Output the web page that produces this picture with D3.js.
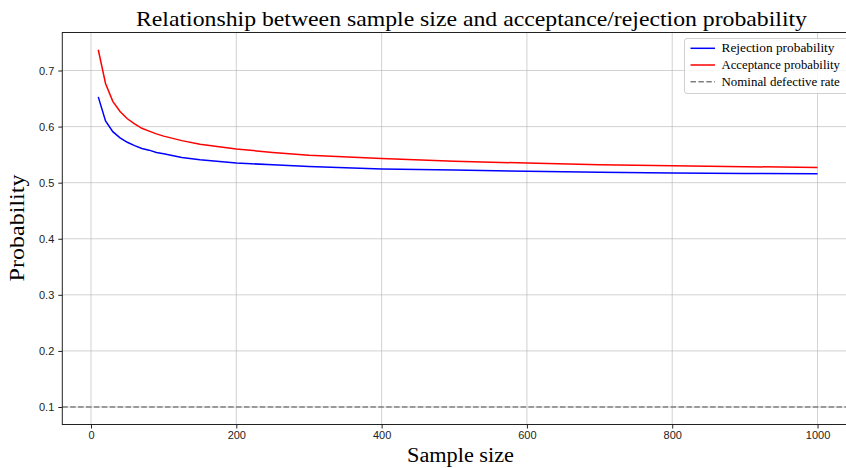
<!DOCTYPE html>
<html><head><meta charset="utf-8">
<script src="https://cdn.jsdelivr.net/npm/d3@7"></script>
<style>body{margin:0;background:#fff}svg{display:block}</style>
</head><body>
<script>
const sampleSizes = [10,20,30,40,50,60,70,80,90,100,125,150,200,250,300,400,500,600,700,800,900,1000];
const rejectionProb = [0.653,0.610,0.591,0.580,0.572,0.566,0.561,0.558,0.554,0.5516,0.545,0.541,0.535,0.532,0.529,0.5245,0.5225,0.5205,0.5185,0.5172,0.5165,0.516];
const acceptanceProb = [0.737,0.677,0.645,0.627,0.614,0.605,0.597,0.592,0.587,0.583,0.575,0.5685,0.560,0.554,0.549,0.543,0.538,0.535,0.532,0.530,0.5285,0.5272];
const nominalRate = 0.1;
const xTicks = [0,200,400,600,800,1000];
const yTicks = [0.1,0.2,0.3,0.4,0.5,0.6,0.7];
const legendLabels = ["Rejection probability","Acceptance probability","Nominal defective rate"];

const W=846,H=468;
const L=62.3,R=853.5,T=32.5,B=424.5;
const svg=d3.select("body").append("svg").attr("width",W).attr("height",H);
const x=d3.scaleLinear().domain([-39.5,1049.5]).range([L,R]);
const y=d3.scaleLinear().domain([0.0688,0.7678]).range([B,T]);
const serif="'Liberation Serif','DejaVu Serif',serif";

// grid
const g=svg.append("g");
g.selectAll(".gx").data(xTicks).join("line").attr("x1",d=>x(d)).attr("x2",d=>x(d)).attr("y1",T).attr("y2",B)
 .attr("stroke","#b0b0b0").attr("stroke-width",0.8).attr("opacity",0.7);
g.selectAll(".gy").data(yTicks).join("line").attr("y1",d=>y(d)).attr("y2",d=>y(d)).attr("x1",L).attr("x2",R)
 .attr("stroke","#b0b0b0").attr("stroke-width",0.8).attr("opacity",0.7);

// axes
const xAxis=d3.axisBottom(x).tickValues(xTicks).tickSize(4).tickPadding(3).tickFormat(d3.format("d"));
const yAxis=d3.axisLeft(y).tickValues(yTicks).tickSize(4).tickPadding(4).tickFormat(d3.format(".1f"));
const gx=svg.append("g").attr("transform",`translate(0,${B})`).call(xAxis);
const gy=svg.append("g").attr("transform",`translate(${L},0)`).call(yAxis);
[gx,gy].forEach(a=>{a.select(".domain").remove();a.selectAll("text").attr("font-family","'Liberation Sans',Arial,sans-serif").attr("font-size",11).attr("fill","#222");a.selectAll("line").attr("stroke","#222");});

// lines
const line=d3.line().x((d,i)=>x(sampleSizes[i])).y(d=>y(d));
svg.append("path").datum(rejectionProb).attr("d",line).attr("fill","none").attr("stroke","#0000ff").attr("stroke-width",1.5);
svg.append("path").datum(acceptanceProb).attr("d",line).attr("fill","none").attr("stroke","#ff0000").attr("stroke-width",1.5);
svg.append("line").attr("x1",L).attr("x2",R).attr("y1",y(nominalRate)).attr("y2",y(nominalRate))
 .attr("stroke","#808080").attr("stroke-width",1.5).attr("stroke-dasharray","5.5,2.4");

// frame
svg.append("rect").attr("x",L).attr("y",T).attr("width",R-L).attr("height",B-T).attr("fill","none").attr("stroke","#222").attr("stroke-width",1);

// title + labels
svg.append("text").attr("x",471.5).attr("y",26).attr("text-anchor","middle").attr("font-family",serif).attr("font-size",21)
 .attr("textLength",671).attr("lengthAdjust","spacingAndGlyphs").text("Relationship between sample size and acceptance/rejection probability");
svg.append("text").attr("x",460.5).attr("y",462).attr("text-anchor","middle").attr("font-family",serif).attr("font-size",20)
 .attr("textLength",107).attr("lengthAdjust","spacingAndGlyphs").text("Sample size");
svg.append("text").attr("transform","translate(24,228) rotate(-90)").attr("text-anchor","middle").attr("font-family",serif).attr("font-size",20)
 .attr("textLength",107).attr("lengthAdjust","spacingAndGlyphs").text("Probability");

// legend
const lg=svg.append("g");
lg.append("rect").attr("x",684.5).attr("y",38.5).attr("width",170).attr("height",55).attr("rx",2.5)
 .attr("fill","#fff").attr("fill-opacity",0.8).attr("stroke","#d0d0d0").attr("stroke-width",1);
const lc=["#0000ff","#ff0000","#808080"];
legendLabels.forEach((t,i)=>{
  const yy=48.3+i*16.7;
  lg.append("line").attr("x1",690.5).attr("x2",715).attr("y1",yy).attr("y2",yy).attr("stroke",lc[i]).attr("stroke-width",1.5)
    .attr("stroke-dasharray",i==2?"5.5,2.4":null);
  lg.append("text").attr("x",721.5).attr("y",yy+3.8).attr("font-family",serif).attr("font-size",11.5)
    .attr("textLength",t.length*5.38).attr("lengthAdjust","spacingAndGlyphs").text(t);
});
</script>
</body></html>
